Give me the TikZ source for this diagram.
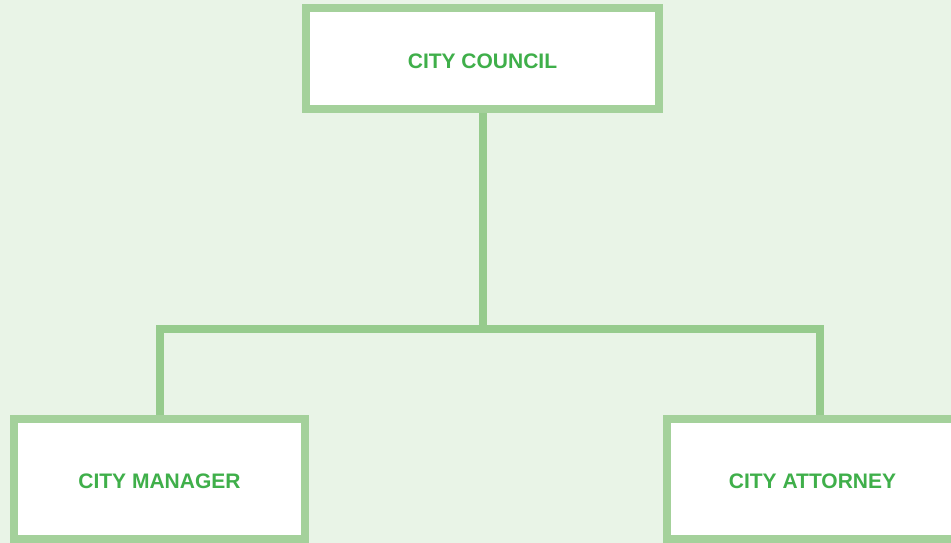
\documentclass[tikz,border=0pt]{standalone}
\usepackage{fontspec}
\setmainfont{Liberation Sans}
\usepackage{tikz}
\usetikzlibrary{calc}
\definecolor{bgGreen}{HTML}{E9F4E7}
\definecolor{frameGreen}{HTML}{A4D19B}
\definecolor{linkGreen}{HTML}{96CB8D}
\definecolor{textGreen}{HTML}{3FAF4A}

\begin{document}
\begin{tikzpicture}[x=1pt,y=-1pt,
    every node/.style={draw=frameGreen,fill=white,line width=8pt,text height=20pt,
      text=textGreen,font=\fontsize{21}{25}\selectfont\bfseries},
    link/.style={draw=linkGreen,line width=8pt}]
                  \fill[bgGreen] (0,0) rectangle (951,543);
                  \useasboundingbox (0,0) rectangle (951,543);
                  \node[minimum width=353pt,minimum height=101pt] (council) at (482.5,58.5) {CITY COUNCIL};
                  \node[minimum width=291pt,minimum height=120pt] (manager) at (159.5,479) {CITY MANAGER};
                  \node[minimum width=291pt,minimum height=120pt] (attorney) at (812.5,479) {CITY ATTORNEY};
                  \coordinate (split) at (council.south |- 0,329);
                    \draw[link] (council.south) -- (split) -| (manager.north);
                      \draw[link] (split) -| ($(attorney.north)+(7.5,0)$);
        \end{tikzpicture}
\end{document}
